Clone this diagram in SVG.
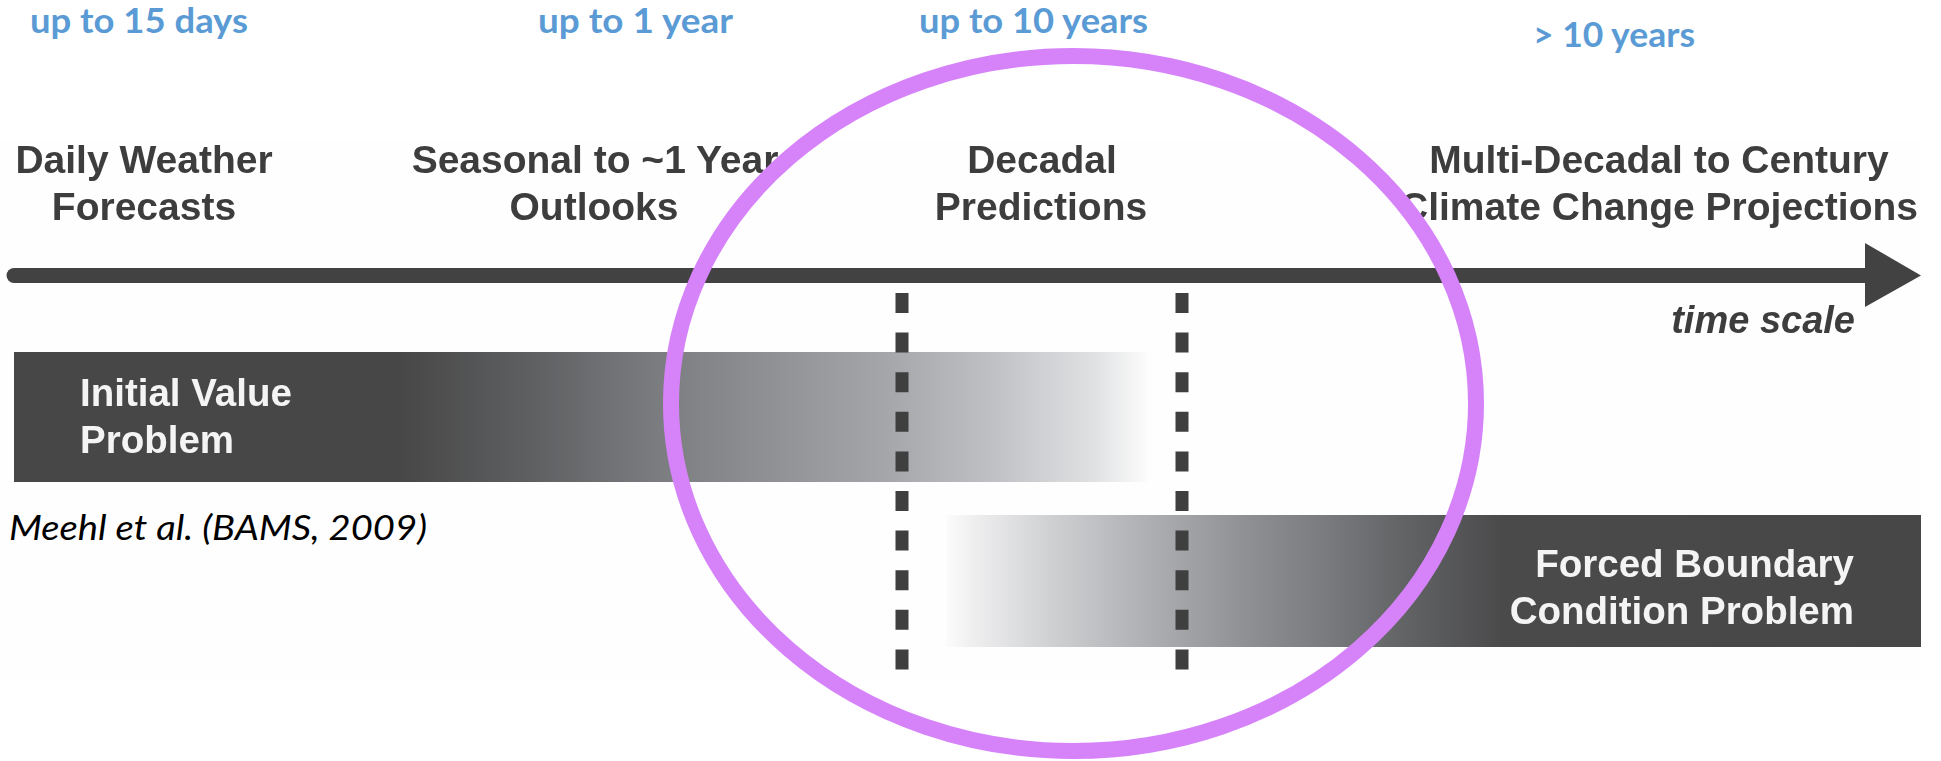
<svg xmlns="http://www.w3.org/2000/svg" width="1941" height="761" viewBox="0 0 1941 761">
  <style>
    .scale { font-family: Lato, "Liberation Sans", sans-serif; font-weight: 700; font-size: 33.5px; fill: #5b9bd5; }
    .fig { font-family: "Liberation Sans", Arial, sans-serif; font-weight: 700; font-size: 39px; fill: #3e3e3e; }
    .inv { font-family: "Liberation Sans", Arial, sans-serif; font-weight: 700; font-size: 38.5px; fill: #f4f4f4; }
    .axis-label { font-family: "Liberation Sans", Arial, sans-serif; font-weight: 700; font-style: italic; font-size: 38px; fill: #3e3e3e; }
    .cite { font-family: Lato, "Liberation Sans", sans-serif; font-style: italic; font-size: 34px; fill: #000000; }
    .divider { stroke: #3f3f3f; stroke-width: 13; stroke-dasharray: 20 19.6; fill: none; }
  </style>
  <defs>
    <filter id="soft" x="-5%" y="-20%" width="110%" height="140%">
      <feGaussianBlur stdDeviation="0.6"/>
    </filter>
    <!-- initial-value band: dark on the left, fading out to the right -->
    <linearGradient id="fadeRight" gradientUnits="userSpaceOnUse" x1="14" y1="0" x2="1148" y2="0">
      <stop offset="0" stop-color="#474747"/>
      <stop offset="0.340" stop-color="#474747"/>
      <stop offset="0.458" stop-color="#5f6062"/>
      <stop offset="0.571" stop-color="#7c7d80"/>
      <stop offset="0.683" stop-color="#939497"/>
      <stop offset="0.773" stop-color="#a6a7aa"/>
      <stop offset="0.862" stop-color="#bfc0c3"/>
      <stop offset="0.952" stop-color="#e0e1e3"/>
      <stop offset="1" stop-color="#fcfcfc"/>
    </linearGradient>
    <!-- forced-boundary band: faint on the left, dark on the right -->
    <linearGradient id="fadeLeft" gradientUnits="userSpaceOnUse" x1="946" y1="0" x2="1921" y2="0">
      <stop offset="0" stop-color="#fcfcfc"/>
      <stop offset="0.025" stop-color="#f0f0f1"/>
      <stop offset="0.106" stop-color="#d0d1d3"/>
      <stop offset="0.207" stop-color="#aeafb2"/>
      <stop offset="0.308" stop-color="#8f9093"/>
      <stop offset="0.389" stop-color="#7a7b7e"/>
      <stop offset="0.470" stop-color="#626365"/>
      <stop offset="0.572" stop-color="#4a4a4b"/>
      <stop offset="1" stop-color="#474747"/>
    </linearGradient>
  </defs>

  <rect x="0" y="0" width="1941" height="761" fill="#ffffff"/>
  <rect x="0" y="142" width="1921" height="538" fill="#fefefe"/>

  <!-- horizon labels -->
  <g id="horizons">
    <text class="scale" x="30" y="33" textLength="218" lengthAdjust="spacingAndGlyphs">up to 15 days</text>
    <text class="scale" x="538" y="33" textLength="195" lengthAdjust="spacingAndGlyphs">up to 1 year</text>
    <text class="scale" x="919" y="33" textLength="229" lengthAdjust="spacingAndGlyphs">up to 10 years</text>
    <text class="scale" x="1533" y="46.5" textLength="162" lengthAdjust="spacingAndGlyphs">&gt; 10 years</text>
  </g>

  <!-- forecast categories above the axis -->
  <g id="daily" filter="url(#soft)">
    <text class="fig" x="144" y="173" text-anchor="middle">Daily Weather</text>
    <text class="fig" x="144" y="220" text-anchor="middle">Forecasts</text>
  </g>
  <g id="seasonal" filter="url(#soft)">
    <text class="fig" x="595" y="173" text-anchor="middle">Seasonal to ~1 Year</text>
    <text class="fig" x="594" y="220" text-anchor="middle">Outlooks</text>
  </g>
  <g id="decadal" filter="url(#soft)">
    <text class="fig" x="1042" y="173" text-anchor="middle">Decadal</text>
    <text class="fig" x="1041" y="220" text-anchor="middle">Predictions</text>
  </g>
  <g id="century" filter="url(#soft)">
    <text class="fig" x="1659" y="173" text-anchor="middle">Multi-Decadal to Century</text>
    <text class="fig" x="1659" y="220" text-anchor="middle">Climate Change Projections</text>
  </g>

  <!-- time axis -->
  <g id="axis" filter="url(#soft)">
    <line x1="14" y1="275.5" x2="1870" y2="275.5" stroke="#424242" stroke-width="15" stroke-linecap="round"/>
    <polygon points="1865,243 1921,275.5 1865,307" fill="#424242"/>
    <text class="axis-label" x="1855" y="333" text-anchor="end">time scale</text>
  </g>

  <!-- problem bands -->
  <g id="initial-value">
    <rect x="14" y="352" width="1134" height="130" fill="url(#fadeRight)"/>
    <g filter="url(#soft)">
      <text class="inv" x="80" y="406">Initial Value</text>
      <text class="inv" x="80" y="453">Problem</text>
    </g>
  </g>
  <g id="forced-boundary">
    <rect x="946" y="515" width="975" height="132" fill="url(#fadeLeft)"/>
    <g filter="url(#soft)">
      <text class="inv" x="1854" y="577" text-anchor="end">Forced Boundary</text>
      <text class="inv" x="1854" y="624" text-anchor="end">Condition Problem</text>
    </g>
  </g>

  <!-- dashed dividers bounding the decadal window -->
  <g id="dividers">
    <line class="divider" x1="902" y1="293" x2="902" y2="670"/>
    <line class="divider" x1="1182" y1="293" x2="1182" y2="670"/>
  </g>

  <g id="citation">
    <text class="cite" x="9" y="540" textLength="418" lengthAdjust="spacingAndGlyphs">Meehl et al. (BAMS, 2009)</text>
  </g>

  <!-- highlight ring around the decadal range -->
  <g id="highlight">
    <ellipse cx="1073.5" cy="403.5" rx="402.5" ry="347.5" fill="none" stroke="#d683fa" stroke-width="16"/>
  </g>
</svg>
